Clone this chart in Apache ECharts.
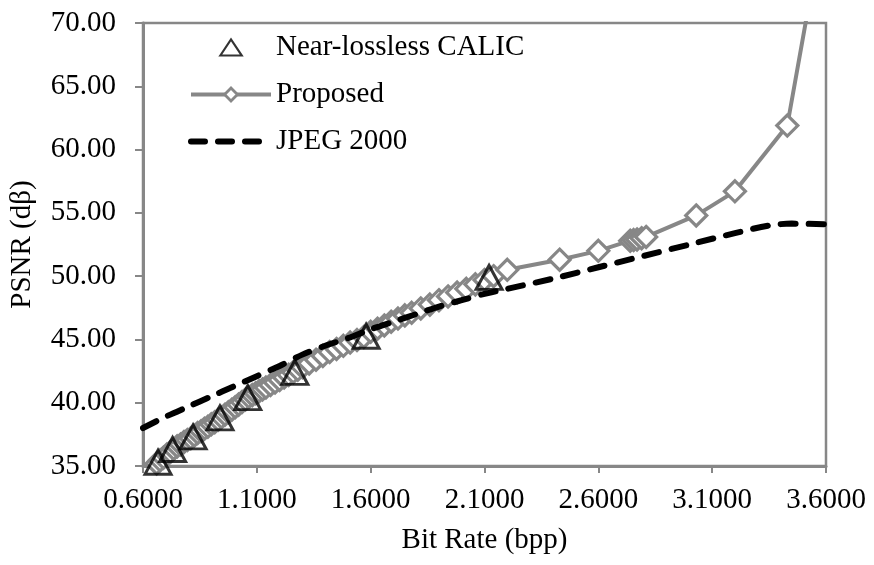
<!DOCTYPE html>
<html>
<head>
<meta charset="utf-8">
<script src="https://cdn.jsdelivr.net/npm/echarts@6/dist/echarts.min.js"></script>
<style>
  html, body { margin: 0; padding: 0; background: #fff; }
  #chart { width: 874px; height: 565px; }
</style>
</head>
<body>
<div id="chart"></div>
<script>
// Rate–distortion curves: PSNR (dB) against bit rate (bpp)
const calicRate = [0.666, 0.73, 0.82, 0.938, 1.06, 1.267, 1.58, 2.12];
const calicPsnr = [35.3, 36.3, 37.3, 38.8, 40.4, 42.4, 45.25, 49.9];

const proposedRate = [
  0.66, 0.675, 0.69, 0.705, 0.72, 0.735, 0.75, 0.765, 0.78, 0.795,
  0.81, 0.825, 0.84, 0.855, 0.87, 0.885, 0.90, 0.915, 0.93, 0.945,
  0.96, 0.975, 0.99, 1.005, 1.02, 1.035, 1.05, 1.065, 1.08, 1.095,
  1.11, 1.125, 1.14, 1.16, 1.18, 1.20, 1.22, 1.24, 1.26, 1.28,
  1.30, 1.33, 1.36, 1.39, 1.42, 1.45, 1.48, 1.51, 1.54, 1.57,
  1.60, 1.63, 1.66, 1.69, 1.72, 1.75, 1.78, 1.82, 1.86, 1.90,
  1.94, 1.98, 2.02, 2.06, 2.10, 2.14, 2.20, 2.43, 2.60, 2.74,
  2.755, 2.77, 2.79, 2.81, 3.03, 3.20, 3.43, 3.55];
const proposedPsnr = [
  35.2, 35.45, 35.65, 35.9, 36.1, 36.35, 36.55, 36.7, 36.9, 37.05,
  37.2, 37.4, 37.6, 37.75, 37.95, 38.1, 38.3, 38.45, 38.65, 38.85,
  39.05, 39.25, 39.45, 39.65, 39.85, 40.05, 40.25, 40.45, 40.6, 40.75,
  40.9, 41.05, 41.2, 41.4, 41.6, 41.8, 42.0, 42.2, 42.4, 42.6,
  42.8, 43.1, 43.4, 43.7, 44.0, 44.25, 44.5, 44.75, 44.95, 45.2,
  45.6, 45.85, 46.1, 46.4, 46.65, 46.9, 47.1, 47.45, 47.75, 48.1,
  48.4, 48.7, 49.0, 49.35, 49.7, 50.0, 50.5, 51.3, 52.0, 52.8,
  52.85, 52.9, 53.0, 53.1, 54.8, 56.7, 61.9, 74.0];

const jpegRate = [0.6, 0.7, 0.8, 0.9, 1.0, 1.1, 1.2, 1.3, 1.4, 1.5, 1.6, 1.7, 1.8,
  1.9, 2.0, 2.1, 2.2, 2.4, 2.6, 2.8, 3.0, 3.2, 3.35, 3.45, 3.6];
const jpegPsnr = [38.0, 38.9, 39.7, 40.5, 41.3, 42.1, 42.9, 43.8, 44.5, 45.1, 45.8, 46.4, 47.0,
  47.6, 48.1, 48.6, 49.0, 49.8, 50.7, 51.6, 52.5, 53.4, 54.0, 54.15, 54.1];

const seriesNames = ['Near-lossless CALIC', 'Proposed', 'JPEG 2000'];
const xTitle = 'Bit Rate (bpp)';
const yTitle = 'PSNR (dβ)';

const pairs = (xs, ys) => xs.map((x, i) => [x, ys[i]]);

const FONT = 'Liberation Serif';
const GREY = '#878787';
const CLEAR = 'rgba(255,255,255,0)';

const chart = echarts.init(document.getElementById('chart'), null, { renderer: 'canvas' });
chart.setOption({
  animation: false,
  backgroundColor: '#fff',
  grid: {
    left: 142, right: 48, top: 23, bottom: 99,
    show: true, borderColor: GREY, borderWidth: 2.5, backgroundColor: 'transparent'
  },
  legend: {
    orient: 'vertical',
    left: 183, top: 28,
    padding: 5,
    itemWidth: 80, itemHeight: 16, itemGap: 18,
    textStyle: { fontFamily: FONT, fontSize: 29, color: '#000' },
    data: [
      { name: seriesNames[0], icon: 'path://M0,15L10,0L20,15Z', symbolKeepAspect: true,
        itemStyle: { color: CLEAR, borderColor: '#000', borderWidth: 2.2 } },
      { name: seriesNames[1],
        lineStyle: { color: GREY, width: 3.8 },
        itemStyle: { color: '#fff', borderColor: GREY, borderWidth: 2.8 } },
      { name: seriesNames[2],
        lineStyle: { color: '#000', width: 6, type: [14, 13], cap: 'round' },
        itemStyle: { color: CLEAR, borderColor: CLEAR, borderWidth: 0 } }
    ]
  },
  xAxis: {
    type: 'value',
    min: 0.6, max: 3.6, interval: 0.5,
    name: xTitle, nameLocation: 'middle', nameGap: 60,
    nameTextStyle: { fontFamily: FONT, fontSize: 29, color: '#000' },
    axisLine: { show: true, onZero: false, lineStyle: { color: GREY, width: 3 } },
    axisTick: { show: true, length: 7, lineStyle: { color: GREY, width: 2 } },
    axisLabel: { margin: 20, fontFamily: FONT, fontSize: 29, color: '#000',
      formatter: v => v.toFixed(4) },
    splitLine: { show: false }
  },
  yAxis: {
    type: 'value',
    min: 35, max: 70, interval: 5,
    name: yTitle, nameLocation: 'middle', nameGap: 106, nameRotate: 90,
    nameTextStyle: { fontFamily: FONT, fontSize: 29, color: '#000' },
    axisLine: { show: true, lineStyle: { color: GREY, width: 3 } },
    axisTick: { show: true, length: 8, lineStyle: { color: GREY, width: 2 } },
    axisLabel: { margin: 27, fontFamily: FONT, fontSize: 29, color: '#000',
      formatter: v => v.toFixed(2) },
    splitLine: { show: false }
  },
  series: [
    {
      name: seriesNames[0],
      type: 'scatter',
      z: 5,
      symbol: 'triangle',
      symbolSize: [26, 24],
      itemStyle: { color: CLEAR, borderColor: '#000', borderWidth: 3 },
      data: pairs(calicRate, calicPsnr)
    },
    {
      name: seriesNames[1],
      type: 'line',
      z: 3,
      clip: true,
      symbol: 'diamond',
      symbolSize: 21,
      showAllSymbol: true,
      lineStyle: { color: GREY, width: 4 },
      itemStyle: { color: '#fff', borderColor: GREY, borderWidth: 3.2 },
      data: pairs(proposedRate, proposedPsnr)
    },
    {
      name: seriesNames[2],
      type: 'line',
      z: 4,
      smooth: 0.3,
      symbol: 'none',
      lineStyle: { color: '#000', width: 6, type: [15, 13], cap: 'round' },
      itemStyle: { color: '#000' },
      data: pairs(jpegRate, jpegPsnr)
    }
  ]
});
</script>
</body>
</html>
